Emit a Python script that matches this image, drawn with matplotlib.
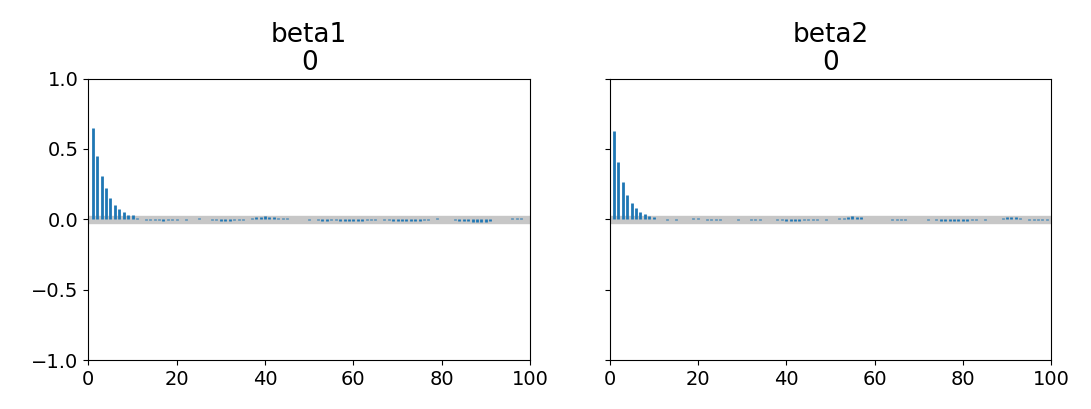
import numpy as np
import matplotlib.pyplot as plt

# autocorrelation estimates, lags 1..99
titles = ["beta1\n0", "beta2\n0"]

acf_beta1 = [0.65, 0.45, 0.31, 0.22, 0.15, 0.105, 0.075, 0.055, 0.03, 0.028, 0.012,
             0.003,
             -0.006, -0.007, -0.005, -0.006, -0.008, -0.006, -0.005, -0.004,
             0.001, -0.001, 0.0, 0.001,
             0.008, 0.006, 0.005,
             -0.004, -0.007, -0.009, -0.010, -0.008, -0.006, -0.004,
             -0.003, 0.001,
             0.012, 0.018, 0.020, 0.021, 0.019, 0.016, 0.013, 0.010, 0.008, 0.006, 0.004,
             0.0, 0.001, -0.001, 0.0,
             -0.006, -0.008, -0.009, -0.007,
             -0.006, -0.008, -0.010, -0.011, -0.012, -0.010, -0.009, -0.007, -0.005, -0.003,
             0.0,
             -0.005, -0.007, -0.009, -0.011, -0.012, -0.013, -0.012, -0.010, -0.008, -0.006, -0.003,
             0.005, 0.008, 0.006, 0.004,
             0.0,
             -0.006, -0.008, -0.010, -0.012, -0.015, -0.018, -0.020, -0.017, -0.012,
             0.001, 0.0, 0.001,
             0.006, 0.009, 0.010, 0.008, 0.005]

acf_beta2 = [0.63, 0.41, 0.265, 0.17, 0.115, 0.08, 0.055, 0.035, 0.026, 0.016,
             0.004, 0.0, -0.003, 0.0, -0.003, 0.0,
             0.004, 0.006, 0.008, 0.007, 0.005,
             -0.003, -0.004, -0.003, -0.002,
             0.0, 0.001, 0.0, -0.001, 0.0, 0.001,
             -0.003, -0.004, -0.003,
             0.004, 0.006, 0.003,
             -0.004, -0.006, -0.008, -0.009, -0.010, -0.008, -0.007, -0.006, -0.005, -0.003,
             0.0, -0.003, 0.0,
             0.004, 0.007, 0.012, 0.018, 0.022, 0.020, 0.015,
             0.003, 0.0,
             0.004, 0.006, 0.005, 0.003,
             -0.003, -0.005, -0.004, -0.002,
             0.004, 0.003, 0.004, 0.003, -0.003, 0.002,
             -0.005, -0.008, -0.010, -0.013, -0.014, -0.012, -0.011, -0.009, -0.007, -0.004,
             0.0, -0.003,
             0.0, 0.001,
             0.005, 0.010, 0.015, 0.018, 0.016, 0.010, 0.004,
             -0.004, -0.006, -0.005, -0.004, -0.003]

max_lag = 100
ci = 0.022  # ~1.96/sqrt(n)

fig, axes = plt.subplots(1, 2, figsize=(10.91, 4.09), dpi=100, sharey=True)
fig.subplots_adjust(left=0.081, right=0.9635, bottom=0.119, top=0.808, wspace=0.18)

for ax, title, acf in zip(axes, titles, [acf_beta1, acf_beta2]):
    lags = np.arange(1, len(acf) + 1)
    ax.fill_between([0, max_lag], -ci, ci, color="0.78", zorder=1)
    ax.vlines(lags, 0, acf, color="C0", linewidth=2.0, zorder=2)
    ax.set_xlim(0, max_lag)
    ax.set_ylim(-1, 1)
    ax.set_xticks([0, 20, 40, 60, 80, 100])
    ax.set_yticks([-1.0, -0.5, 0.0, 0.5, 1.0])
    ax.tick_params(labelsize=14)
    ax.set_title(title, fontsize=19, linespacing=1.1, pad=6)

fig.savefig("out.png")
